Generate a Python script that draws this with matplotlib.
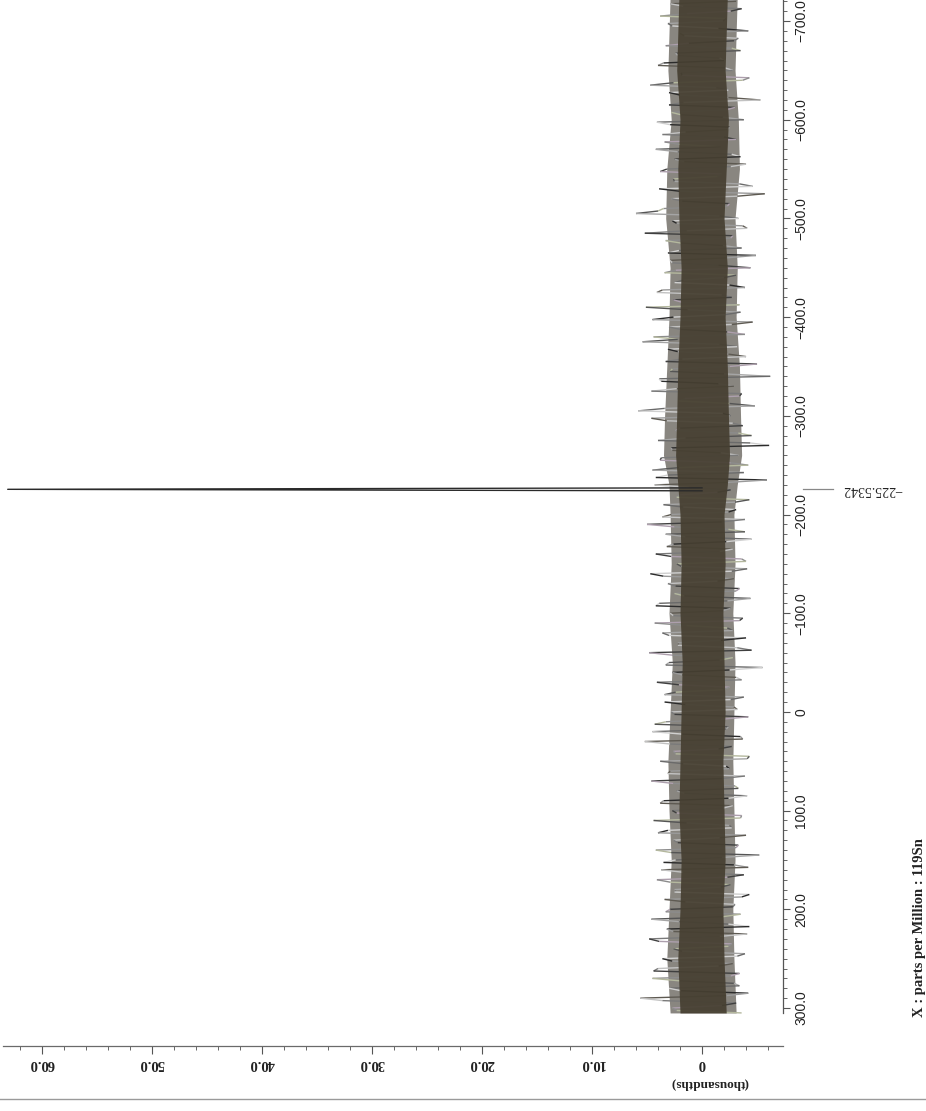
import matplotlib

matplotlib.use("Agg")
import matplotlib.pyplot as plt
import numpy as np
from matplotlib.collections import LineCollection
from matplotlib.ticker import FixedLocator, FuncFormatter

# 119Sn spectrum, intensity in thousandths.
# noise read at whole 5 ppm steps (-725 .. 305) and at the half steps in between (-722.5 .. 302.5)
noise_start, noise_step = -725.0, 5.0
noise_vals = [
    2.4, -3.1, 1.7, -2.6, 3.8, -1.9, 2.7, -4.2, 1.6, -2.9, 3.3, -3.5, 2.2, -2.0, 4.0, -2.8, 1.8, -3.7, 4.7, -2.4,
    2.0, -5.3, 3.0, -2.2, 1.9, -3.8, 2.9, -2.3, 3.6, -3.1, 2.1, 4.2, -2.7, 2.5, -4.0, 3.2, -1.8, 2.6, -3.4, 3.9,
    -5.7, 2.8, -2.5, 3.5, 6.0, -3.3, 2.3, -4.1, 5.2, -2.6, 1.9, -3.6, 3.1, -2.2, 2.7, -4.4, 3.4, -2.0, 2.5, -3.9,
    4.1, -2.7, 1.8, 5.1, -3.5, 2.6, -4.6, 3.0, -2.3, 4.4, 5.4, -3.2, 2.2, -4.0, 3.3, -2.5, 2.9, -6.2, 3.7, -2.9,
    4.6, -3.4, 2.1, -4.8, 5.8, -2.6, 3.2, -3.7, 2.4, -4.5, 4.0, -6.1, 2.7, -3.3, 3.8, -4.2, 4.5, 3.1, -5.9, 4.3,
    -2.6, 2.0, -4.3, 3.5, -3.1, 2.8, -3.9, 5.0, -2.4, 3.3, -4.5, 2.6, -2.8, 4.2, -3.6, 2.3, -4.1, 4.7, -2.9, 3.1,
    -3.4, 2.5, -4.4, 3.9, -2.6, 2.9, -3.7, 4.3, -2.3, 3.6, -4.0, 2.2, -3.2, 4.8, -2.8, 3.0, -5.5, 2.7, -3.1, 4.1,
    -2.5, 2.4, -3.8, 3.4, -2.9, 2.8, -4.2, 3.3, -2.4, 4.5, -3.5, 5.2, -2.7, 2.6, -4.3, 3.8, -2.2, 2.9, -3.9, 4.6,
    -3.0, 2.3, -4.1, 3.5, -2.8, 2.7, -3.6, 4.4, -2.5, 3.1, -4.0, 2.6, -3.3, 4.2, -5.2, 2.4, -2.9, 3.7, -3.8, 4.1,
    -2.6, 2.5, -4.3, 3.4, -3.0, 2.9, -3.5, 4.6, -2.4, 3.2, -4.1, 4.8, -2.7, 2.6, -3.9, 3.6, -2.8, 4.0, -3.4, 4.5,
    -2.9, 3.0, -4.2, 5.6, -3.1, 2.7, -3.6,
]
noise_vals_half = [
    -1.8, 2.9, -3.6, 1.4, -2.2, 3.1, -1.5, 2.0, -3.3, 1.2, -2.7, 2.4, -1.6, 3.5, -2.1, 1.9, -4.3, 2.6, -1.3, 3.0,
    -2.4, 1.7, -3.0, 2.8, -1.9, 4.1, -2.5, 1.5, -2.0, 3.4, -1.7, 2.2, -3.5, 1.6, -2.6, 3.8, -1.4, 2.5, -4.6, 2.0,
    -3.2, 1.8, -2.3, 4.0, -1.6, 2.7, -3.7, 1.4, -2.8, 3.3, -1.9, 2.1, -4.9, 2.9, -1.5, 2.4, -3.1, 1.7, -2.5, 3.6,
    -1.8, 2.6, -3.4, 1.3, -2.1, 4.5, -2.7, 1.9, -3.9, 2.2, -1.6, 3.1, -2.4, 1.8, -5.0, 2.7, -2.0, 3.9, -1.5, 2.3,
    -3.6, 1.6, -2.5, 3.4, -1.9, 4.6, -2.8, 2.0, -3.3, 1.5, -4.4, 2.8, -1.7, 3.7, -2.6, 2.1, -3.8, 4.2, -2.3, 1.2,
    -1.4, 2.3, -3.0, 1.7, -2.4, 3.6, -1.8, 2.5, -3.9, 1.5, -2.2, 3.2, -1.6, 2.8, -4.0, 1.9, -2.7, 3.5, -1.4, 2.4,
    -3.1, 1.6, -2.3, 4.2, -1.9, 2.6, -3.4, 1.4, -2.8, 3.0, -1.7, 2.2, -4.5, 2.7, -1.6, 3.3, -2.5, 1.8, -3.6, 2.1,
    -1.9, 3.4, -2.6, 1.5, -3.2, 2.5, -1.7, 4.3, -2.2, 1.8, -3.7, 2.9, -1.5, 2.4, -4.1, 1.7, -2.5, 3.1, -1.8, 2.6,
    -3.3, 1.6, -2.4, 3.8, -1.9, 2.3, -3.5, 1.4, -2.7, 4.0, -1.6, 2.2, -3.1, 2.8, -1.8, 3.5, -4.2, 1.7, -2.3, 2.9,
    -1.7, 2.5, -3.6, 1.5, -2.8, 3.3, -1.9, 2.1, -4.3, 2.6, -1.6, 3.9, -2.4, 1.8, -3.2, 2.7, -1.5, 4.4, -2.6, 2.0,
    -3.4, 1.9, -2.2, 3.6, -1.8, 2.3,
]

# dark core of the noise band and the denser grey fringe around it (thousandths)
core_ppm = [-725, -650, -600, -550, -500, -450, -400, -350, -300, -260, -230, -200, -150, -100, -50, 0, 50, 100, 150, 200, 250, 305]
core_pos = [2.1, 2.3, 2.0, 2.2, 2.1, 1.9, 2.0, 2.2, 2.3, 2.4, 2.2, 2.0, 1.9, 2.0, 1.8, 1.9, 2.0, 2.1, 1.9, 2.0, 2.2, 2.0]
core_neg = [-2.3, -2.1, -2.4, -2.2, -2.0, -2.3, -2.1, -2.3, -2.4, -2.5, -2.3, -2.0, -2.1, -1.9, -2.0, -2.1, -1.9, -2.0, -2.1, -1.9, -2.0, -2.2]
fringe_pos = [2.9, 3.1, 2.8, 3.2, 3.3, 2.9, 3.0, 3.2, 3.4, 3.5, 3.0, 2.9, 2.8, 3.0, 2.7, 2.9, 3.1, 3.0, 2.8, 3.0, 3.2, 2.9]
fringe_neg = [-3.2, -3.0, -3.3, -3.4, -3.0, -3.2, -3.1, -3.4, -3.5, -3.6, -3.2, -2.9, -3.0, -2.8, -3.0, -2.9, -2.8, -2.9, -3.0, -2.8, -2.9, -3.1]

peak_ppm = [-227.0, -225.5342, -224.0]
peak_val = [0.0, 63.1, 0.0]
peak_label = "\u2212225.5342"

ppm_lim = (338.5, -721.3)
int_lim = (63.8, -7.36)

# merge whole and half steps into one trace ordered by ppm
trace_val = np.empty(len(noise_vals) + len(noise_vals_half))
trace_val[0::2] = noise_vals
trace_val[1::2] = noise_vals_half
trace_ppm = noise_start + noise_step / 2 * np.arange(len(trace_val))

fig = plt.figure(figsize=(9.26, 11.11), dpi=100)
ax = fig.add_axes([0, 1 - 1046 / 1111, 783 / 926, 1046 / 1111])

ax.fill_betweenx(core_ppm, fringe_neg, fringe_pos, color="#625d55", alpha=0.75, lw=0, zorder=1)

pts = np.column_stack([trace_val, trace_ppm])
segs = np.stack([pts[:-1], pts[1:]], axis=1)
palette = ["#2b2b2b", "#9a9a9a", "#5e5a52", "#c2c2c2", "#7a7a7a", "#3f3f3f", "#ad9fad",
           "#8c8c8c", "#b4b89e", "#555555", "#a5a5a5", "#6a6a6a", "#d0d0d0"]
seg_colors = [palette[i % len(palette)] for i in range(len(segs))]
ax.add_collection(LineCollection(segs, colors=seg_colors, linewidths=1.0, zorder=2))

ax.fill_betweenx(core_ppm, core_neg, core_pos, color="#463f31", alpha=0.92, lw=0, zorder=3)

ax.plot(peak_val, peak_ppm, color="#2a2a2a", lw=1.0, zorder=5)

ax.set_xlim(*int_lim)
ax.set_ylim(*ppm_lim)

for side in ("top", "left"):
    ax.spines[side].set_visible(False)
ax.spines["right"].set_bounds(-721.3, 305)
ax.spines["bottom"].set_bounds(-7.36, 63.5)
ax.spines["right"].set_color("#555555")
ax.spines["bottom"].set_color("#6a6a6a")
ax.spines["right"].set_linewidth(0.9)
ax.spines["bottom"].set_linewidth(0.9)

# ppm axis (right side, labels rotated)
ax.yaxis.tick_right()
ax.yaxis.set_major_locator(FixedLocator(np.arange(-700, 301, 100)))
ax.yaxis.set_minor_locator(FixedLocator(np.arange(-720, 301, 10)))
ax.yaxis.set_major_formatter(FuncFormatter(lambda v, p: "0" if abs(v) < 1e-9 else f"{v:.1f}".replace("-", "\u2212")))
ax.tick_params(axis="y", which="major", length=5, width=0.8, color="#555555", pad=3,
               labelsize=10, labelrotation=90, labelcolor="#222222")
ax.tick_params(axis="y", which="minor", length=3, width=0.7, color="#666666")
for lab in ax.get_yticklabels():
    lab.set_fontfamily("Liberation Sans")
    lab.set_va("center")

# intensity axis (bottom, labels upside down)
ax.xaxis.set_major_locator(FixedLocator(np.arange(0, 61, 10)))
ax.xaxis.set_minor_locator(FixedLocator(np.arange(-6, 64, 2)))
ax.xaxis.set_major_formatter(FuncFormatter(lambda v, p: "0" if abs(v) < 1e-9 else f"{v:.1f}"))
ax.tick_params(axis="x", which="major", length=6, width=0.8, color="#555555", pad=2,
               labelsize=10.5, labelrotation=180, labelcolor="#222222")
ax.tick_params(axis="x", which="minor", length=3, width=0.7, color="#666666")
for lab in ax.get_xticklabels():
    lab.set_fontfamily("Liberation Serif")
    lab.set_fontweight("bold")

# peak marker and label
ax.plot([-9.2, -11.9], [peak_ppm[1], peak_ppm[1]], color="#888888", lw=0.9, clip_on=False)
ax.text(-15.5, peak_ppm[1], peak_label, rotation=180, ha="center", va="center",
        fontsize=10, family="Liberation Serif", color="#222222", clip_on=False)

fig.text(920 / 926, 1 - 928 / 1111, "X : parts per Million : 119Sn", rotation=90,
         ha="center", va="center", fontsize=10.5, family="Liberation Serif", fontweight="bold", color="#222222")
fig.text(709 / 926, 1 - 1084 / 1111, "(thousandths)", rotation=180, ha="center", va="center",
         fontsize=9.5, family="Liberation Serif", fontweight="bold", color="#222222")

fig.add_artist(plt.Line2D([0, 1], [1 - 1099 / 1111] * 2, color="#9a9a9a", lw=1.0))

fig.savefig("out.png", dpi=100)
